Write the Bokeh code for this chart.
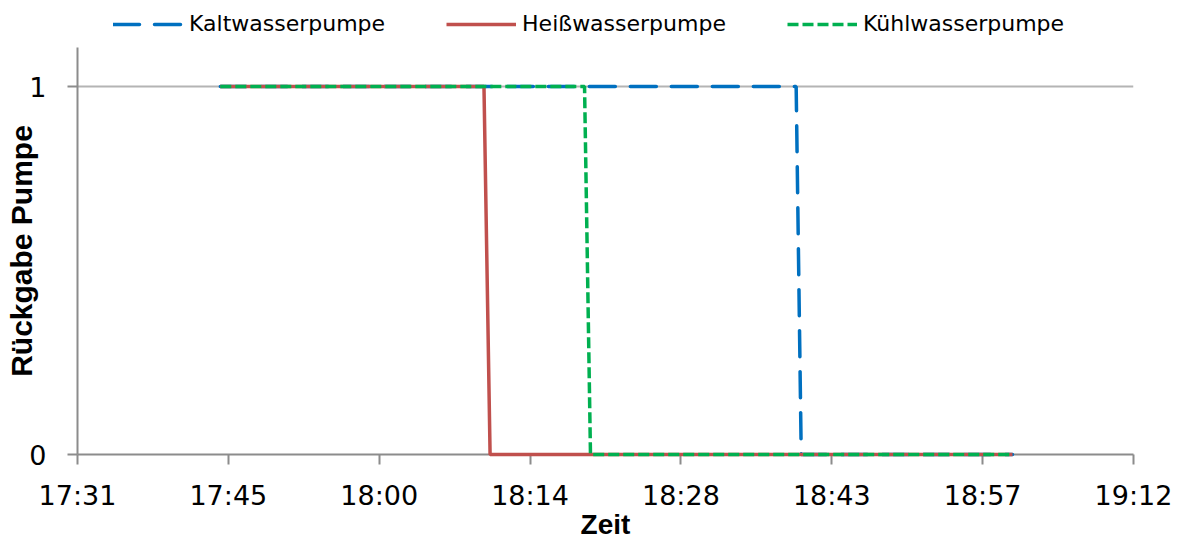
from bokeh.plotting import figure
from bokeh.layouts import column
from bokeh.models import Range1d, FixedTicker, Legend, LegendItem
from bokeh.embed import file_html
from bokeh.resources import INLINE

# ---- data (time of day, pump feedback 0/1) ----
kalt_times = ["17:44:50", "18:39:48", "18:40:17", "19:00:27"]
kalt_values = [1, 1, 0, 0]
heiss_times = ["17:44:50", "18:10:00", "18:10:35", "19:00:27"]
heiss_values = [1, 1, 0, 0]
kuehl_times = ["17:44:50", "18:19:36", "18:20:10", "19:00:27"]
kuehl_values = [1, 1, 0, 0]

series_names = ["Kaltwasserpumpe", "Heißwasserpumpe", "Kühlwasserpumpe"]

# x axis in fractions of a day (Excel style)
tick_days = [0.73, 0.74, 0.75, 0.76, 0.77, 0.78, 0.79, 0.80]
tick_labels = ["17:31", "17:45", "18:00", "18:14", "18:28", "18:43", "18:57", "19:12"]
y_ticks = [0, 1]

styles = [
    dict(line_color="#0070C0", line_width=3.5, line_dash="26 15", line_cap="round"),
    dict(line_color="#C0504D", line_width=3.5),
    dict(line_color="#00B050", line_width=3.5, line_dash="11 4"),
]


def to_day(t):
    h, m, s = (int(v) for v in t.split(":"))
    return (h * 3600 + m * 60 + s) / 86400.0


all_times = [kalt_times, heiss_times, kuehl_times]
all_values = [kalt_values, heiss_values, kuehl_values]

TOP = 47
p = figure(width=1179, height=542 - TOP, output_backend="svg", toolbar_location=None,
           x_range=Range1d(0.73, 0.80), y_range=Range1d(0, 1.106),
           min_border_left=77, min_border_right=46, min_border_top=0, min_border_bottom=88)
p.outline_line_color = None
p.background_fill_color = "white"

# grid
p.xgrid.visible = False
p.ygrid.ticker = FixedTicker(ticks=[1])
p.ygrid.grid_line_color = "#B4B4B4"
p.ygrid.grid_line_width = 2

# axes
axis_gray = "#8C8C8C"
for ax in (p.xaxis[0], p.yaxis[0]):
    ax.axis_line_color = axis_gray
    ax.axis_line_width = 2
    ax.major_tick_line_color = axis_gray
    ax.major_tick_line_width = 2
    ax.major_tick_out = 10
    ax.major_tick_in = 0
    ax.minor_tick_line_color = None
    ax.major_label_text_font = "DejaVu Sans"
    ax.major_label_text_font_size = "27px"
    ax.major_label_text_color = "#000000"
    ax.axis_label_text_font = "Liberation Sans"
    ax.axis_label_text_font_style = "bold"
    ax.axis_label_text_color = "#000000"

p.xaxis.ticker = FixedTicker(ticks=tick_days)
p.xaxis.major_label_overrides = {t: l for t, l in zip(tick_days, tick_labels)}
p.xaxis.axis_label = "Zeit"
p.xaxis.axis_label_text_font_size = "28px"
p.xaxis.major_label_standoff = 15
p.xaxis.axis_label_standoff = -5

p.yaxis.ticker = FixedTicker(ticks=y_ticks)
p.yaxis.axis_label = "Rückgabe Pumpe"
p.yaxis.axis_label_text_font_size = "30px"
p.yaxis.major_label_standoff = 21
p.yaxis.axis_label_standoff = -12

# series (drawn above the axes, as in the reference)
for times, vals, st in zip(all_times, all_values, styles):
    p.line([to_day(t) for t in times], vals, level="overlay", **st)

# legend strip on top (separate figure; its lines lie outside its visible range)
lg = figure(width=1179, height=TOP, output_backend="svg", toolbar_location=None,
            x_range=Range1d(0, 0.1), y_range=Range1d(5, 6),
            min_border=0, outline_line_color=None)
lg.axis.visible = False
lg.grid.visible = False
items = []
for name, times, vals, st in zip(series_names, all_times, all_values, styles):
    r = lg.line([to_day(t) for t in times], vals, **st)
    items.append(LegendItem(label=name, renderers=[r]))
legend = Legend(items=items, location=(36, 11), orientation="horizontal",
                glyph_width=70, glyph_height=24, label_standoff=6,
                padding=0, margin=0, spacing=61,
                border_line_color=None, background_fill_alpha=0,
                label_text_font="DejaVu Sans", label_text_font_size="22px",
                label_text_color="#000000")
lg.add_layout(legend, "center")

layout = column(lg, p, spacing=0)
open("out.html", "w").write(file_html(layout, INLINE))
